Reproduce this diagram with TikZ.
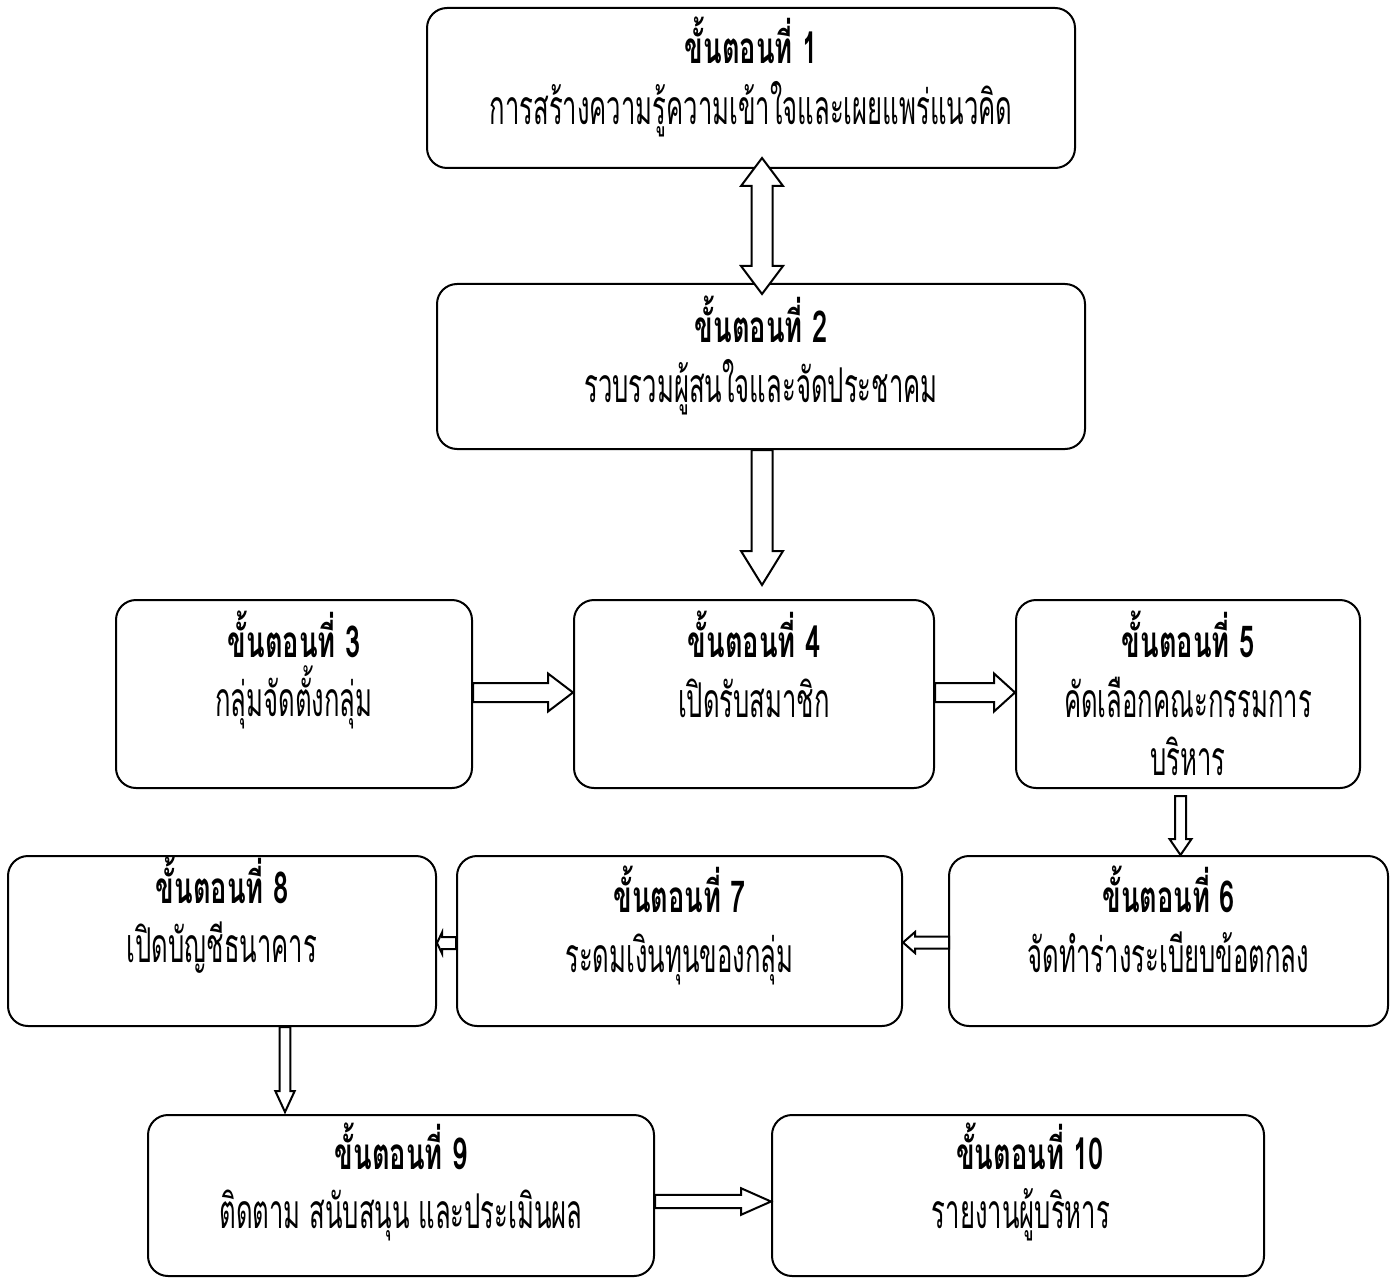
\documentclass[tikz,border=0pt]{standalone}
\usepackage{fontspec}
\setmainfont[Script=Thai]{Loma}
\newfontfamily\thai[Script=Thai,FakeStretch=0.62]{Loma}
\newfontfamily\thaibody[Script=Thai,FakeStretch=0.535]{Loma}
\usetikzlibrary{fit,calc}
\tikzset{
  box/.style={draw, line width=1pt, rounded corners=10pt, inner sep=0pt, fill=white},
  blk/.style={draw, line width=1pt, fill=white, line join=miter},
  ttl/.style={font=\thai\bfseries\fontsize{22}{26}\selectfont, anchor=base, inner sep=0pt},
  txt/.style={font=\thaibody\fontsize{24}{28}\selectfont, anchor=base, inner sep=0pt},
}
% vertical down arrow: start, end, half shaft, half head, head length
\newcommand\arrdown[5]{\draw[blk] let \p1=(#1), \p2=(#2) in
  (\x1-#3,\y1) -- (\x1-#3,\y2+#5) -- (\x1-#4,\y2+#5) -- (\x1,\y2) -- (\x1+#4,\y2+#5) -- (\x1+#3,\y2+#5) -- (\x1+#3,\y1) -- cycle;}
\newcommand\arrboth[5]{\draw[blk] let \p1=(#1), \p2=(#2) in
  (\x1,\y1) -- (\x1+#4,\y1-#5) -- (\x1+#3,\y1-#5) -- (\x1+#3,\y2+#5) -- (\x1+#4,\y2+#5) -- (\x1,\y2) -- (\x1-#4,\y2+#5) -- (\x1-#3,\y2+#5) -- (\x1-#3,\y1-#5) -- (\x1-#4,\y1-#5) -- cycle;}
\newcommand\arrright[5]{\draw[blk] let \p1=(#1), \p2=(#2) in
  (\x1,\y1+#3) -- (\x2-#5,\y1+#3) -- (\x2-#5,\y1+#4) -- (\x2,\y1) -- (\x2-#5,\y1-#4) -- (\x2-#5,\y1-#3) -- (\x1,\y1-#3) -- cycle;}
\newcommand\arrleft[5]{\draw[blk] let \p1=(#1), \p2=(#2) in
  (\x1,\y1+#3) -- (\x2+#5,\y1+#3) -- (\x2+#5,\y1+#4) -- (\x2,\y1) -- (\x2+#5,\y1-#4) -- (\x2+#5,\y1-#3) -- (\x1,\y1-#3) -- cycle;}
\begin{document}
\begin{tikzpicture}[x=0.5pt,y=-0.5pt]
\path[use as bounding box, fill=white] (0,0) rectangle (1400,1278);
% boxes
\node[box, fit={(427,8) (1075,168)}] (b1) {};
\node[box, fit={(437,284) (1085,449)}] (b2) {};
\node[box, fit={(116,600) (472,788)}] (b3) {};
\node[box, fit={(574,600) (934,788)}] (b4) {};
\node[box, fit={(1016,600) (1360,788)}] (b5) {};
\node[box, fit={(949,856) (1388,1026)}] (b6) {};
\node[box, fit={(457,856) (902,1026)}] (b7) {};
\node[box, fit={(8,856) (436,1026)}] (b8) {};
\node[box, fit={(148,1115) (654,1276)}] (b9) {};
\node[box, fit={(772,1115) (1264,1276)}] (b10) {};
% texts
\node[ttl] (t1) at ($(b1.north)+(0,57)$) {ขั้นตอนที่ 1};
\node[txt] (s1) at ($(b1.north)+(0,118)$) {การสร้างความรู้ความเข้าใจและเผยแพร่แนวคิด};
\node[ttl] (t2) at ($(b2.north)+(0,59)$) {ขั้นตอนที่ 2};
\node[txt] (s2) at ($(b2.north)+(0,119)$) {รวบรวมผู้สนใจและจัดประชาคม};
\node[ttl] (t3) at ($(b3.north)+(0,58)$) {ขั้นตอนที่ 3};
\node[txt] (s3) at ($(b3.north)+(0,117)$) {กลุ่มจัดตั้งกลุ่ม};
\node[ttl] (t4) at ($(b4.north)+(0,58)$) {ขั้นตอนที่ 4};
\node[txt] (s4) at ($(b4.north)+(0,118)$) {เปิดรับสมาชิก};
\node[ttl] (t5) at ($(b5.north)+(0,58)$) {ขั้นตอนที่ 5};
\node[txt] (s5) at ($(b5.north)+(0,118)$) {คัดเลือกคณะกรรมการ};
\node[txt] (s5b) at ($(b5.north)+(0,176)$) {บริหาร};
\node[ttl] (t6) at ($(b6.north)+(0,57)$) {ขั้นตอนที่ 6};
\node[txt] (s6) at ($(b6.north)+(0,117)$) {จัดทำร่างระเบียบข้อตกลง};
\node[ttl] (t7) at ($(b7.north)+(0,57)$) {ขั้นตอนที่ 7};
\node[txt] (s7) at ($(b7.north)+(0,117)$) {ระดมเงินทุนของกลุ่ม};
\node[ttl] (t8) at ($(b8.north)+(0,48)$) {ขั้นตอนที่ 8};
\node[txt] (s8) at ($(b8.north)+(0,107)$) {เปิดบัญชีธนาคาร};
\node[ttl] (t9) at ($(b9.north)+(0,55)$) {ขั้นตอนที่ 9};
\node[txt] (s9) at ($(b9.north)+(0,114)$) {ติดตาม สนับสนุน และประเมินผล};
\node[ttl] (t10) at ($(b10.north)+(12,55)$) {ขั้นตอนที่ 10};
\node[txt] (s10) at ($(b10.north)+(3,114)$) {รายงานผู้บริหาร};
% arrows
\arrboth{$(b1.south)+(11,-11)$}{$(b2.north)+(1,11)$}{5.25pt}{10.5pt}{14pt}
\arrdown{$(b2.south)+(1,0)$}{$(b4.north)+(8,-14)$}{5.25pt}{10.5pt}{17pt}
\arrright{$(b3.east)+(0,-1.5)$}{b4.west}{4.75pt}{9.5pt}{12.5pt}
\arrright{$(b4.east)+(0,-1.5)$}{b5.west}{4.75pt}{9.5pt}{10.5pt}
\arrdown{$(b5.south)+(-7.5,7)$}{b6.north}{2.75pt}{5.5pt}{8pt}
\arrleft{$(b6.west)+(1,1.5)$}{b7.east}{3pt}{5.25pt}{6pt}
\arrleft{$(b7.west)+(0,2)$}{b8.east}{3pt}{5.25pt}{2.5pt}
\arrdown{$(b8.south)+(63,0)$}{$(b9.north)+(0,-2)$}{2.65pt}{4.85pt}{10.5pt}
\arrright{$(b9.east)+(0,6)$}{b10.west}{3.35pt}{6.65pt}{15pt}
\end{tikzpicture}
\end{document}
